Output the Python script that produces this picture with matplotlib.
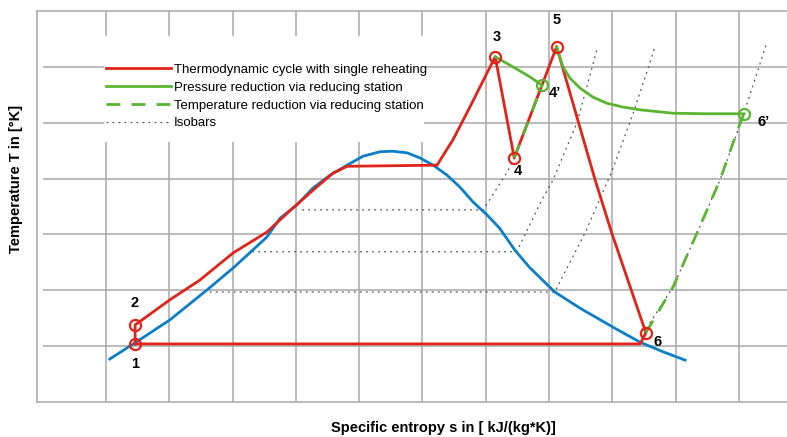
import matplotlib.pyplot as plt
from matplotlib.patches import Rectangle

plt.rcParams['font.family'] = ['Liberation Sans', 'DejaVu Sans']

# saturation dome (entropy s, temperature T in grid units)
dome_s = [0.06, 0.46, 1.01, 1.60, 2.01, 2.54, 2.75, 3.02, 3.27, 3.54, 3.81, 4.06,
          4.33, 4.53, 4.76, 4.96, 5.17, 5.39, 5.59, 5.80, 6.02, 6.22, 6.46, 6.70,
          7.09, 7.49, 8.01, 8.44, 8.80, 9.15]
dome_T = [0.77, 1.06, 1.47, 2.01, 2.40, 2.95, 3.29, 3.53, 3.83, 4.06, 4.24, 4.40,
          4.48, 4.49, 4.46, 4.37, 4.24, 4.06, 3.85, 3.58, 3.35, 3.11, 2.72, 2.40,
          1.97, 1.68, 1.34, 1.07, 0.90, 0.75]

# cycle with single reheating 1-2-3-4-5-6-1
cycle_s = [0.46, 0.46, 1.01, 1.48, 2.01, 2.54, 2.95, 3.33, 3.59, 3.81, 5.23, 5.48,
           5.75, 6.02, 6.15, 6.45, 7.12, 7.73, 7.99, 8.53, 8.44, 0.46]
cycle_T = [1.04, 1.38, 1.83, 2.18, 2.67, 3.04, 3.47, 3.85, 4.10, 4.22, 4.24, 4.69,
           5.28, 5.89, 6.18, 4.37, 6.36, 3.97, 3.03, 1.24, 1.04, 1.04]

# pressure reduction (solid green)
press_a_s = [6.15, 6.43, 6.70, 6.89]
press_a_T = [6.18, 6.00, 5.82, 5.67]
press_b_s = [7.12, 7.22, 7.33, 7.49, 7.69, 7.91, 8.17, 8.44, 8.96, 9.49, 10.08]
press_b_T = [6.36, 6.00, 5.80, 5.62, 5.46, 5.35, 5.28, 5.23, 5.17, 5.16, 5.16]

# temperature reduction (dashed green)
temp_a_s = [6.45, 6.89]
temp_a_T = [4.37, 5.67]
temp_b_s = [8.53, 8.96, 9.34, 9.70, 9.98, 10.08]
temp_b_T = [1.24, 2.06, 3.03, 3.97, 4.87, 5.16]

# isobars
iso_s = [
    [3.10, 5.96, 6.33, 6.45, 6.89],
    [2.31, 6.49, 6.86, 7.06, 7.44, 7.77],
    [1.64, 7.09, 7.57, 7.99, 8.33, 8.67],
    [0.46, 8.44, 8.59, 8.96, 9.34, 9.70, 10.06, 10.44],
]
iso_T = [
    [3.44, 3.44, 4.10, 4.37, 5.67],
    [2.69, 2.69, 3.56, 3.97, 4.99, 6.36],
    [1.97, 1.97, 3.03, 4.12, 5.17, 6.34],
    [1.04, 1.04, 1.41, 2.06, 3.03, 3.97, 5.10, 6.43],
]

# state points
pt_names = ['1', '2', '3', '4', '5', '6', '4\u2019', '6\u2019']
pt_s = [0.46, 0.46, 6.15, 6.45, 7.12, 8.53, 6.89, 10.08]
pt_T = [1.04, 1.38, 6.18, 4.37, 6.36, 1.24, 5.67, 5.16]
pt_colors = ['red'] * 6 + ['green'] * 2
label_offsets = [(0, -20), (-1, 22), (2, 20), (4, -13), (0, 27), (12, -9), (13, -8), (20, -8)]

RED = '#e2231a'
BLUE = '#0b7fc7'
GREEN = '#5cb531'
GRID = '#a8a8a8'

fig = plt.figure(figsize=(7.87, 4.37), dpi=100)
ax = fig.add_axes([37 / 787, 35 / 437, 750 / 787, 391 / 437])
ax.set_xlim(-1.09, 10.76)
ax.set_ylim(0, 7)
ax.set_xticks([])
ax.set_yticks([])
for side in ['top', 'bottom', 'left']:
    ax.spines[side].set_color(GRID)
    ax.spines[side].set_linewidth(1.1)
ax.spines['right'].set_visible(False)

ax.hlines(range(1, 7), -1.0, 10.76, color=GRID, lw=1.1, zorder=0)
ax.vlines(range(0, 11), 0, 7, color=GRID, lw=1.1, zorder=0)
ax.add_patch(Rectangle((-0.03, 4.65), 5.05, 1.9, facecolor='white',
                       edgecolor='none', zorder=0.5))

iso_style = dict(color='#555555', lw=0.9, linestyle=(0, (1.5, 3.3)), zorder=1)
for xs, ys in zip(iso_s, iso_T):
    h_iso, = ax.plot(xs, ys, **iso_style)

ax.plot(dome_s, dome_T, color=BLUE, lw=2.0, zorder=2)
h_cyc, = ax.plot(cycle_s, cycle_T, color=RED, lw=2.0, zorder=3)
h_pr, = ax.plot(press_a_s, press_a_T, color=GREEN, lw=2.0, zorder=3)
ax.plot(press_b_s, press_b_T, color=GREEN, lw=2.0, zorder=3)
h_tr, = ax.plot(temp_a_s, temp_a_T, color=GREEN, lw=2.0, linestyle=(0, (5, 4)), zorder=4)
ax.plot(temp_b_s, temp_b_T, color=GREEN, lw=2.0, linestyle=(0, (5, 4)), zorder=4)

for name, s, t, c, off in zip(pt_names, pt_s, pt_T, pt_colors, label_offsets):
    col = RED if c == 'red' else GREEN
    ax.plot(s, t, 'o', ms=8, mfc='none', mec=col, mew=1.6, zorder=5)
    ax.annotate(name, (s, t), xytext=off, textcoords='offset pixels',
                ha='center', va='center', fontsize=10.5, fontweight='bold', zorder=6)

ax.legend([h_cyc, h_pr, h_tr, h_iso],
          ['Thermodynamic cycle with single reheating',
           'Pressure reduction via reducing station',
           'Temperature reduction via reducing station',
           'Isobars'],
          loc='upper left', bbox_to_anchor=(0.092, 0.865), frameon=False,
          fontsize=9.5, handlelength=4.9, handletextpad=0.25, labelspacing=0.42,
          borderpad=0, borderaxespad=0)

fig.text(443 / 787, 1 - 428 / 437, 'Specific entropy s in [ kJ/(kg*K)]',
         ha='center', va='center', fontsize=10.5, fontweight='bold')
fig.text(16 / 787, 1 - 179 / 437, 'Temperature T in [\u00b0K]', rotation=90,
         ha='center', va='center', fontsize=10.5, fontweight='bold')

fig.savefig('out.png', dpi=100)
